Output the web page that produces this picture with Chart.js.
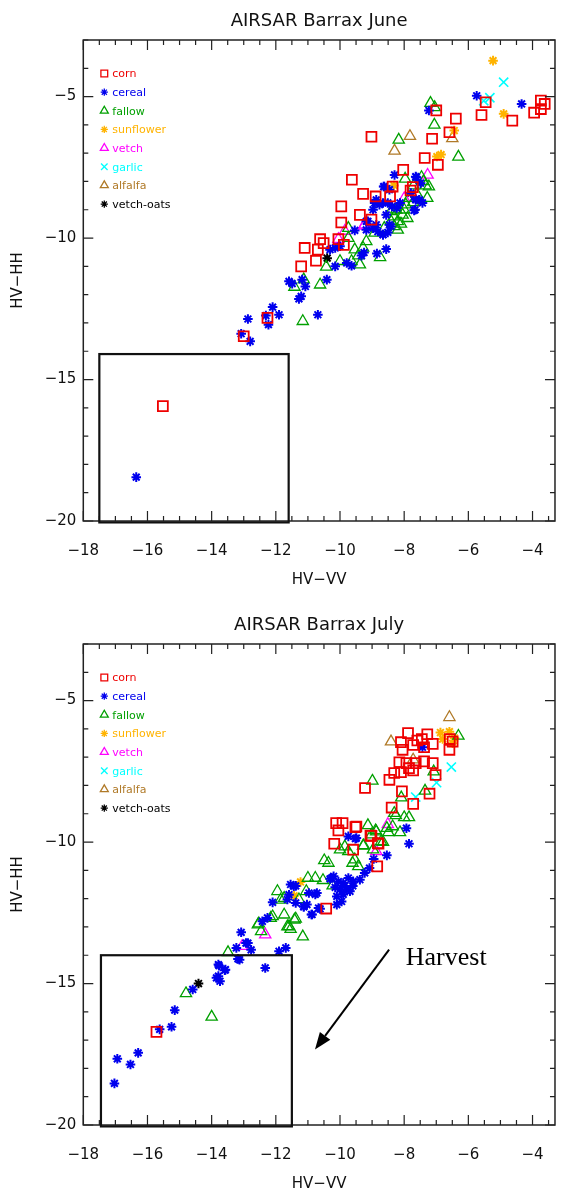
<!DOCTYPE html>
<html>
<head>
<meta charset="utf-8">
<title>AIRSAR Barrax</title>
<script src="https://cdn.jsdelivr.net/npm/chart.js@4.4.1/dist/chart.umd.min.js"></script>
<style>
  html, body { margin: 0; padding: 0; background: #ffffff; }
  canvas { display: block; }
</style>
</head>
<body>
<canvas id="june" width="565" height="600"></canvas>
<canvas id="july" width="565" height="596"></canvas>
<script>
// ---- crop classes ----
const categories = ['corn', 'cereal', 'fallow', 'sunflower', 'vetch', 'garlic', 'alfalfa', 'vetch-oats'];

// ---- axis ticks (dB) ----
const xTickValues = [-18, -16, -14, -12, -10, -8, -6, -4];
const yTickValues = [-20, -15, -10, -5];
const xRange = [-18, -3.3];
const yRange = [-20, -3];

// ---- June: [HV-VV, HV-HH] per field ----
const juneCorn = [[-3.74,-5.14],[-3.62,-5.26],[-3.74,-5.44],[-3.95,-5.57],[-4.63,-5.85],[-5.46,-5.20],[-5.59,-5.65],
  [-7.00,-5.49],[-6.39,-5.78],[-6.59,-6.26],[-7.13,-6.49],[-9.02,-6.42],[-7.36,-7.17],[-6.95,-7.41],[-8.03,-7.59],
  [-9.63,-7.94],[-8.36,-8.18],[-7.73,-8.20],[-7.80,-8.32],[-9.28,-8.44],[-8.89,-8.53],[-8.44,-8.53],[-9.96,-8.88],
  [-9.38,-9.18],[-9.96,-9.45],[-9.02,-9.35],[-10.05,-10.04],[-9.88,-10.24],[-10.62,-10.04],[-10.51,-10.18],
  [-11.10,-10.35],[-10.69,-10.41],[-10.75,-10.80],[-11.21,-11.00],[-12.26,-12.82],[-13.00,-13.47],[-15.52,-15.94]];
const juneCereal = [[-5.74,-4.97],[-4.34,-5.26],[-7.23,-5.49],[-8.30,-7.77],[-7.62,-7.85],[-8.62,-8.18],[-7.64,-8.62],
  [-7.52,-8.65],[-7.66,-9.00],[-8.92,-8.76],[-8.77,-8.82],[-8.51,-8.76],[-8.38,-8.88],[-8.23,-8.94],[-8.13,-8.76],
  [-9.13,-9.41],[-8.97,-9.65],[-8.82,-9.77],[-8.66,-9.88],[-9.18,-9.71],[-8.56,-9.18],[-8.41,-9.59],[-8.51,-9.80],
  [-9.54,-9.73],[-8.56,-10.39],[-8.85,-10.55],[-10.31,-10.41],[-10.15,-10.35],[-10.00,-10.29],[-9.79,-10.88],
  [-9.64,-10.98],[-10.15,-11.00],[-9.33,-10.62],[-9.25,-10.51],[-11.59,-11.53],[-11.49,-11.61],[-11.18,-11.47],
  [-11.08,-11.71],[-10.41,-11.47],[-11.28,-12.15],[-11.21,-12.06],[-12.10,-12.44],[-11.90,-12.71],[-12.31,-12.74],
  [-12.23,-13.06],[-12.87,-12.86],[-10.69,-12.71],[-13.08,-13.38],[-12.80,-13.65],[-16.35,-18.45],
  [-8.64,-8.18],[-8.46,-8.29],[-8.87,-8.65],[-8.97,-9.00],[-8.66,-8.76],[-7.64,-7.83],[-7.49,-8.06],[-7.79,-8.41],
  [-7.64,-8.65],[-7.69,-9.02],[-7.43,-8.76],[-9.18,-9.41],[-8.87,-9.53],[-8.46,-9.53],[-8.66,-9.88]];
const juneFallow = [[-7.18,-5.23],[-7.05,-5.38],[-7.06,-6.00],[-8.17,-6.53],[-6.31,-7.13],[-7.97,-7.91],[-7.46,-7.85],
  [-7.33,-8.15],[-7.23,-8.18],[-7.71,-8.15],[-7.28,-8.59],[-7.85,-8.59],[-7.72,-8.74],[-7.95,-8.82],[-8.41,-9.06],
  [-8.31,-9.24],[-8.20,-9.41],[-8.31,-9.59],[-8.20,-9.71],[-8.05,-9.18],[-8.41,-9.41],[-8.62,-9.65],[-8.92,-9.82],
  [-9.74,-9.65],[-9.74,-10.00],[-9.18,-10.12],[-9.28,-10.35],[-9.54,-10.41],[-9.43,-10.62],[-8.75,-10.68],
  [-10.00,-10.82],[-9.64,-10.82],[-9.38,-10.94],[-10.43,-11.02],[-11.13,-11.47],[-11.42,-11.73],[-10.62,-11.65],
  [-11.16,-12.94],[-7.40,-8.00],[-7.60,-8.45],[-8.00,-9.00],[-8.10,-9.50],[-7.90,-9.30],[-8.25,-9.00]];
const juneSunflower = [[-5.23,-3.73],[-4.90,-5.61],[-6.44,-6.20],[-6.98,-7.12],[-6.85,-7.05],[-8.32,-8.14]];
const juneVetch = [[-7.27,-7.77],[-9.26,-9.57],[-9.85,-9.75],[-8.00,-8.60],[-9.23,-9.53],[-10.05,-10.04]];
const juneGarlic = [[-4.90,-4.49],[-5.52,-5.15],[-5.33,-5.04]];
const juneAlfalfa = [[-6.50,-6.48],[-7.82,-6.40],[-8.30,-6.92]];
const juneVetchOats = [[-10.40,-10.71]];

// ---- July ----
const julyCorn = [[-6.58,-6.36],[-6.49,-6.45],[-6.59,-6.74],[-7.88,-6.15],[-7.28,-6.19],[-7.11,-6.53],[-8.10,-6.47],
  [-8.05,-6.74],[-7.72,-6.57],[-7.59,-6.41],[-7.45,-6.36],[-7.38,-6.65],[-8.15,-7.18],[-7.93,-7.21],[-7.64,-7.21],
  [-7.38,-7.15],[-7.11,-7.21],[-7.85,-7.39],[-7.72,-7.47],[-8.10,-7.53],[-8.31,-7.56],[-8.46,-7.80],[-7.02,-7.63],
  [-7.21,-8.29],[-8.07,-8.21],[-7.72,-8.65],[-9.22,-8.09],[-8.39,-8.78],[-9.49,-9.45],[-9.02,-9.78],[-8.82,-10.04],
  [-10.12,-9.33],[-9.92,-9.33],[-10.05,-9.59],[-9.52,-9.47],[-10.18,-10.06],[-9.05,-9.77],[-8.80,-10.06],
  [-9.59,-10.27],[-8.84,-10.86],[-10.43,-12.35],[-15.72,-16.71]];
const julyCereal = [[-7.43,-6.65],[-7.93,-9.51],[-7.85,-10.06],[-9.74,-9.80],[-9.52,-9.88],[-8.54,-10.47],[-8.95,-10.60],
  [-9.08,-10.92],[-9.23,-11.09],[-9.38,-11.33],[-9.59,-11.39],[-9.74,-11.27],[-9.90,-11.45],[-10.00,-11.68],
  [-10.10,-11.92],[-9.95,-12.10],[-9.79,-11.68],[-9.69,-11.74],[-10.20,-11.21],[-10.31,-11.30],[-10.10,-12.21],
  [-10.62,-12.36],[-10.87,-12.56],[-11.13,-12.29],[-11.38,-12.15],[-11.54,-11.50],[-11.44,-11.56],[-10.77,-11.85],
  [-10.97,-11.80],[-11.64,-12.03],[-12.10,-12.13],[-12.26,-12.68],[-12.42,-12.80],[-13.08,-13.19],[-12.87,-13.57],
  [-13.23,-13.74],[-13.18,-14.13],[-13.79,-14.33],[-13.59,-14.53],[-13.79,-14.74],[-11.90,-13.86],[-11.69,-13.74],
  [-12.33,-14.45],[-11.59,-11.86],[-11.38,-11.55],[-10.26,-11.27],[-10.89,-12.56],[-10.67,-12.33],[-11.13,-12.27],
  [-11.03,-12.21],[-10.72,-11.80],[-13.77,-14.37],[-13.57,-14.51],[-13.85,-14.80],[-13.74,-14.92],[-14.59,-15.21],
  [-15.15,-15.94],[-15.25,-16.53],[-15.62,-16.62],[-16.29,-17.45],[-16.94,-17.66],[-16.53,-17.86],[-17.03,-18.53],
  [-12.93,-13.57],[-12.77,-13.81],[-13.13,-14.16],[-9.85,-11.55],[-10.05,-11.40],[-9.60,-11.55],[-9.90,-11.85],
  [-10.15,-11.60],[-9.49,-9.86]];
const julyFallow = [[-6.31,-6.25],[-7.08,-7.51],[-8.99,-7.84],[-7.35,-8.19],[-8.09,-8.43],[-8.31,-8.98],[-8.26,-9.06],
  [-8.00,-9.13],[-7.85,-9.13],[-9.13,-9.41],[-8.87,-9.63],[-9.02,-9.74],[-8.49,-9.66],[-8.13,-9.66],[-8.36,-9.45],
  [-9.28,-10.13],[-8.72,-9.98],[-8.89,-9.59],[-8.54,-9.51],[-9.26,-10.12],[-8.97,-10.27],[-8.66,-10.00],
  [-9.85,-10.16],[-10.00,-10.27],[-9.74,-10.33],[-10.49,-10.65],[-10.36,-10.74],[-9.54,-10.62],[-9.43,-10.86],
  [-9.61,-10.74],[-11.00,-11.27],[-10.77,-11.27],[-10.53,-11.35],[-10.23,-11.54],[-11.05,-11.74],[-11.28,-12.03],
  [-11.38,-12.71],[-11.59,-12.98],[-11.95,-11.74],[-11.74,-11.98],[-11.85,-12.04],[-12.10,-12.63],[-12.56,-12.92],
  [-11.74,-12.57],[-11.42,-12.75],[-11.64,-12.99],[-11.54,-13.08],[-11.16,-13.34],[-13.49,-13.90],[-12.16,-12.69],
  [-12.46,-13.16],[-14.80,-15.35],[-14.00,-16.18],[-12.53,-12.88]];
const julySunflower = [[-6.87,-6.13],[-6.59,-6.10],[-6.80,-6.36],[-6.43,-6.33],[-6.49,-6.51],[-11.23,-11.41],[-11.43,-11.90]];
const julyVetch = [[-8.51,-9.37],[-8.87,-10.33],[-12.33,-13.27],[-13.05,-13.68]];
const julyGarlic = [[-6.53,-7.35],[-6.99,-7.90],[-7.64,-8.41]];
const julyAlfalfa = [[-6.59,-5.59],[-8.41,-6.45],[-7.72,-7.09]];
const julyVetchOats = [[-14.41,-15.00]];

// ---- low-backscatter (harvested) region outline: [xMin, xMax, yMin, yMax] ----
const juneBox = [-17.5, -11.6, -20.05, -14.1];
const julyBox = [-17.45, -11.5, -20.05, -14.0];

// ---- "Harvest" callout in data units ----
const harvestLabel = [-7.95, -14.33];
const harvestArrow = [[-8.47, -13.80], [-10.78, -17.33]];

// ---- marker look per class ----
const classColors = ['#ee0000', '#0000ee', '#00a000', '#ffb300', '#ff00ff', '#00ffff', '#b07a28', '#000000'];
const classStyles = ['rect', 'star', 'triangle', 'star', 'triangle', 'crossRot', 'triangle', 'star'];
const classRadius = [7, 4.8, 6.5, 4.8, 6.5, 6.5, 6.5, 4.8];
const classWidth = [1.8, 2, 1.3, 2, 1.3, 1.6, 1.3, 2];

const FONT = "'DejaVu Sans', 'Liberation Sans', sans-serif";

function minusFmt(v) {
  return (v < 0 ? '\u2212' : '') + Math.abs(v);
}

function toPoints(arr) {
  return arr.map(p => ({ x: p[0], y: p[1] }));
}

function buildDatasets(groups) {
  return groups.map((g, i) => ({
    label: categories[i],
    data: toPoints(g),
    showLine: false,
    pointStyle: classStyles[i],
    pointRadius: classRadius[i],
    pointBorderWidth: classWidth[i],
    pointBorderColor: classColors[i],
    pointBackgroundColor: 'rgba(0,0,0,0)',
    pointHoverRadius: classRadius[i]
  }));
}

function drawMarker(ctx, style, r, bw, color, x, y) {
  ctx.save();
  ctx.strokeStyle = color;
  ctx.fillStyle = 'rgba(0,0,0,0)';
  ctx.lineWidth = bw;
  if (Chart.helpers && Chart.helpers.drawPoint) {
    Chart.helpers.drawPoint(ctx, { pointStyle: style, radius: r, borderWidth: bw, rotation: 0 }, x, y);
  }
  ctx.restore();
}

const framePlugin = {
  id: 'idlFrame',
  afterDraw(chart, args, opts) {
    const ctx = chart.ctx;
    const a = chart.chartArea;
    const xs = chart.scales.x;
    const ys = chart.scales.y;
    ctx.save();

    // axis frame
    ctx.strokeStyle = '#222';
    ctx.lineWidth = 1.5;
    ctx.strokeRect(a.left, a.top, a.right - a.left, a.bottom - a.top);

    // inward ticks on all four sides
    ctx.lineWidth = 1.2;
    ctx.beginPath();
    for (let v = xRange[0]; v <= xRange[1] + 1e-9; v += 0.5) {
      const px = xs.getPixelForValue(v);
      const len = (Math.abs(v % 2) < 1e-9) ? 10 : 5;
      ctx.moveTo(px, a.bottom); ctx.lineTo(px, a.bottom - len);
      ctx.moveTo(px, a.top); ctx.lineTo(px, a.top + len);
    }
    for (let v = yRange[0]; v <= yRange[1] + 1e-9; v += 1) {
      const py = ys.getPixelForValue(v);
      const len = (Math.abs(v % 5) < 1e-9) ? 10 : 5;
      ctx.moveTo(a.left, py); ctx.lineTo(a.left + len, py);
      ctx.moveTo(a.right, py); ctx.lineTo(a.right - len, py);
    }
    ctx.stroke();

    // outlined region
    const b = opts.box;
    const bx0 = xs.getPixelForValue(b[0]), bx1 = xs.getPixelForValue(b[1]);
    const by0 = ys.getPixelForValue(b[2]), by1 = ys.getPixelForValue(b[3]);
    ctx.strokeStyle = '#111';
    ctx.lineWidth = 2.2;
    ctx.strokeRect(bx0, by1, bx1 - bx0, by0 - by1);

    // title and axis titles
    ctx.fillStyle = '#111';
    ctx.textAlign = 'center';
    ctx.textBaseline = 'middle';
    ctx.font = '18px ' + FONT;
    const cx = (a.left + a.right) / 2;
    ctx.fillText(opts.title, cx, a.top - 19);
    ctx.font = '15px ' + FONT;
    ctx.fillText('HV\u2212VV', cx, a.bottom + 59);
    ctx.save();
    ctx.translate(18, (a.top + a.bottom) / 2);
    ctx.rotate(-Math.PI / 2);
    ctx.fillText('HV\u2212HH', 0, 0);
    ctx.restore();

    // legend
    ctx.textAlign = 'left';
    ctx.font = '11px ' + FONT;
    categories.forEach((name, i) => {
      const y = a.top + 33.5 + i * 18.65;
      const sr = classStyles[i] === 'rect' ? 4.8 : (classStyles[i] === 'star' ? 3.6 : 4.6);
      drawMarker(ctx, classStyles[i], sr, 1.3, classColors[i], a.left + 21, y);
      ctx.fillStyle = classColors[i];
      ctx.fillText(name, a.left + 29, y + 1);
    });

    // harvest callout
    if (opts.harvest) {
      const tx = xs.getPixelForValue(harvestLabel[0]);
      const ty = ys.getPixelForValue(harvestLabel[1]);
      ctx.fillStyle = '#000';
      ctx.font = "26px 'Liberation Serif', 'DejaVu Serif', serif";
      ctx.textAlign = 'left';
      ctx.textBaseline = 'alphabetic';
      ctx.fillText('Harvest', tx, ty);

      const x0 = xs.getPixelForValue(harvestArrow[0][0]);
      const y0 = ys.getPixelForValue(harvestArrow[0][1]);
      const x1 = xs.getPixelForValue(harvestArrow[1][0]);
      const y1 = ys.getPixelForValue(harvestArrow[1][1]);
      const ang = Math.atan2(y1 - y0, x1 - x0);
      const head = 17, half = 6.5;
      const bxh = x1 - head * Math.cos(ang), byh = y1 - head * Math.sin(ang);
      ctx.strokeStyle = '#000';
      ctx.lineWidth = 2;
      ctx.beginPath();
      ctx.moveTo(x0, y0);
      ctx.lineTo(bxh, byh);
      ctx.stroke();
      ctx.beginPath();
      ctx.moveTo(x1, y1);
      ctx.lineTo(bxh + half * Math.sin(ang), byh - half * Math.cos(ang));
      ctx.lineTo(bxh - half * Math.sin(ang), byh + half * Math.cos(ang));
      ctx.closePath();
      ctx.fillStyle = '#000';
      ctx.fill();
    }
    ctx.restore();
  }
};

function makeChart(id, title, groups, box, harvest, plotTop, plotBottom) {
  const canvas = document.getElementById(id);
  const axisH = canvas.height - plotBottom;
  return new Chart(canvas, {
    type: 'scatter',
    data: { datasets: buildDatasets(groups) },
    options: {
      responsive: false,
      animation: false,
      devicePixelRatio: 1,
      events: [],
      layout: { padding: { top: plotTop, right: 4, left: 0, bottom: 0 } },
      plugins: {
        legend: { display: false },
        title: { display: false },
        tooltip: { enabled: false },
        idlFrame: { title: title, box: box, harvest: harvest }
      },
      scales: {
        x: {
          type: 'linear',
          min: xRange[0],
          max: xRange[1],
          afterBuildTicks: s => { s.ticks = xTickValues.map(v => ({ value: v })); },
          afterFit: s => { s.height = axisH; },
          grid: { display: false, drawTicks: false },
          border: { display: false },
          ticks: {
            padding: 21,
            autoSkip: false,
            maxRotation: 0,
            color: '#111',
            font: { family: FONT, size: 15 },
            callback: v => minusFmt(v)
          }
        },
        y: {
          type: 'linear',
          min: yRange[0],
          max: yRange[1],
          afterBuildTicks: s => { s.ticks = yTickValues.map(v => ({ value: v })); },
          afterFit: s => { s.width = 83.3; },
          grid: { display: false, drawTicks: false },
          border: { display: false },
          ticks: {
            padding: 7,
            color: '#111',
            font: { family: FONT, size: 15 },
            callback: v => minusFmt(v)
          }
        }
      }
    },
    plugins: [framePlugin]
  });
}

makeChart('june', 'AIRSAR Barrax June',
  [juneCorn, juneCereal, juneFallow, juneSunflower, juneVetch, juneGarlic, juneAlfalfa, juneVetchOats],
  juneBox, false, 40, 521);

makeChart('july', 'AIRSAR Barrax July',
  [julyCorn, julyCereal, julyFallow, julySunflower, julyVetch, julyGarlic, julyAlfalfa, julyVetchOats],
  julyBox, true, 44, 525);
</script>
</body>
</html>
